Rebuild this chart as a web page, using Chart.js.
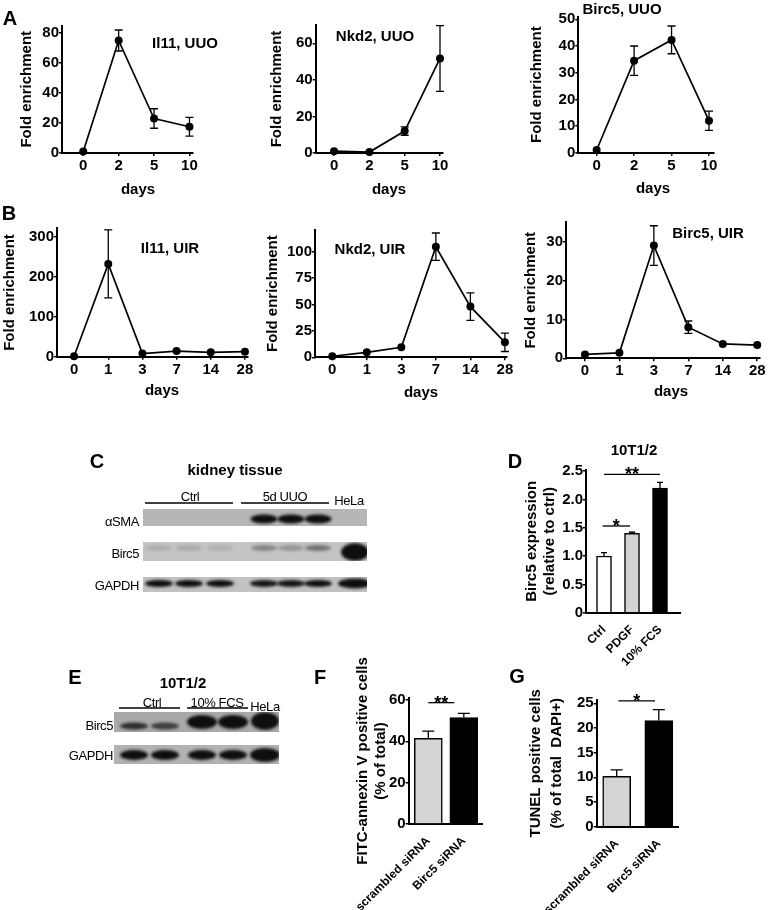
<!DOCTYPE html>
<html>
<head>
<meta charset="utf-8">
<title>Birc5 figure</title>
<script src="https://cdn.jsdelivr.net/npm/chart.js@4.4.1/dist/chart.umd.min.js"></script>
<style>
  html, body { margin: 0; padding: 0; background: #fff; }
  #fig { position: relative; width: 768px; height: 910px; overflow: hidden; }
  #fig canvas { position: absolute; }
  .lbl { position: absolute; transform: translate(-50%, -50%); white-space: nowrap; line-height: 1; color: #000;
         font-family: "Liberation Sans", Arial, sans-serif; font-weight: bold; }
  .letter { font-size: 20px; }
  .ttl { font-size: 15px; }
  .blt { font-family: "Liberation Sans Narrow", "Liberation Sans", Arial, sans-serif; font-weight: normal;
         font-size: 13px; letter-spacing: -0.4px; }
  .r { transform: translate(-100%, -50%); }
</style>
</head>
<body>
<div id="fig"><canvas id="blots" width="768" height="910" style="left:0;top:0"></canvas></div>
<script>
// ---- data ----

// time points (x tick labels)
const daysUUO = ['0', '2', '5', '10'];
const daysUIR = ['0', '1', '3', '7', '14', '28'];

// A: UUO time courses (mean, sem)
const il11UUO = [1, 75, 23, 17.5];
const il11UUOErr = [0, 7, 6.5, 6.3];
const nkd2UUO = [1, 0.5, 12, 51.7];
const nkd2UUOErr = [0, 0, 2.3, 18];
const birc5UUO = [1, 34.5, 42.3, 12];
const birc5UUOErr = [0, 5.5, 5.2, 3.6];

// B: UIR time courses
const il11UIR = [1, 232, 8, 14, 11, 12.5];
const il11UIRErr = [0, 85, 0, 0, 0, 0];
const nkd2UIR = [1, 4.7, 9.5, 104.7, 48, 14.2];
const nkd2UIRErr = [0, 0, 0, 13, 13, 8.7];
const birc5UIR = [1, 1.4, 29, 8, 3.7, 3.4];
const birc5UIRErr = [0, 0, 5.1, 1.6, 0, 0];

// y tick values
const ticksIl11UUO = [0, 20, 40, 60, 80];
const ticksNkd2UUO = [0, 20, 40, 60];
const ticksBirc5UUO = [0, 10, 20, 30, 40, 50];
const ticksIl11UIR = [0, 100, 200, 300];
const ticksNkd2UIR = [0, 25, 50, 75, 100];
const ticksBirc5UIR = [0, 10, 20, 30];

// D: Birc5 expression in 10T1/2
const dGroups = ['Ctrl', 'PDGF', '10% FCS'];
const dValues = [1.0, 1.4, 2.2];
const dErr = [0.06, 0.02, 0.1];
const dTicks = [0, 0.5, 1, 1.5, 2, 2.5];

// F / G: siRNA
const siGroups = ['scrambled siRNA', 'Birc5 siRNA'];
const fValues = [41.5, 51.5];
const fErr = [3.4, 2];
const fTicks = [0, 20, 40, 60];
const gValues = [10.2, 21.5];
const gErr = [1.3, 2.2];
const gTicks = [0, 5, 10, 15, 20, 25];

// blot band intensities (0 = no band, 1 = saturated)
const blotC_aSMA = [0, 0, 0, 1, 1, 1, 0];
const blotC_Birc5 = [0.12, 0.14, 0.1, 0.35, 0.25, 0.45, 1];
const blotC_GAPDH = [1, 1, 1, 0.95, 0.95, 1, 1];
const blotE_Birc5 = [0.8, 0.7, 1, 1, 1];
const blotE_GAPDH = [1, 1, 1, 1, 1];

// ---- chart setup ----
Chart.defaults.font.family = '"Liberation Sans", Arial, sans-serif';
Chart.defaults.font.weight = 'bold';
Chart.defaults.font.size = 15;
Chart.defaults.color = '#000';
Chart.defaults.animation = false;

// error bars drawn from the dataset's own points and y scale
const errPlugin = {
  id: 'errbars',
  afterDatasetsDraw(chart, args, o) {
    if (!o.err) return;
    const ctx = chart.ctx;
    const ys = chart.scales.y;
    const pts = chart.getDatasetMeta(0).data;
    const vals = chart.data.datasets[0].data;
    ctx.save();
    ctx.strokeStyle = '#000';
    ctx.lineWidth = 1.3;
    o.err.forEach((e, i) => {
      if (!e) return;
      const v = vals[i].y;
      const x = pts[i].x;
      const yTop = ys.getPixelForValue(v + e);
      const yBot = o.up ? pts[i].y : ys.getPixelForValue(v - e);
      ctx.beginPath();
      ctx.moveTo(x, yTop); ctx.lineTo(x, yBot);
      ctx.moveTo(x - o.cap, yTop); ctx.lineTo(x + o.cap, yTop);
      if (!o.up) { ctx.moveTo(x - o.cap, yBot); ctx.lineTo(x + o.cap, yBot); }
      ctx.stroke();
    });
    ctx.restore();
  }
};

// significance brackets
const sigPlugin = {
  id: 'sig',
  afterDraw(chart, args, o) {
    if (!o.marks) return;
    const ctx = chart.ctx, xs = chart.scales.x, ys = chart.scales.y;
    ctx.save();
    ctx.strokeStyle = '#000';
    ctx.fillStyle = '#000';
    ctx.lineWidth = 1.3;
    ctx.font = 'bold 18px "Liberation Sans", Arial, sans-serif';
    ctx.textAlign = 'center';
    ctx.textBaseline = 'alphabetic';
    o.marks.forEach(m => {
      const x1 = xs.getPixelForValue(m.from), x2 = xs.getPixelForValue(m.to);
      const yy = ys.getPixelForValue(m.at);
      ctx.beginPath(); ctx.moveTo(x1, yy); ctx.lineTo(x2, yy); ctx.stroke();
      ctx.fillText(m.text, (x1 + x2) / 2, yy + 6);
    });
    ctx.restore();
  }
};
Chart.register(errPlugin, sigPlugin);

const fig = document.getElementById('fig');
const axisBorder = { display: true, color: '#000', width: 2 };
const tickGrid = { display: true, drawOnChartArea: false, drawTicks: true, tickLength: 3, color: '#000', lineWidth: 1.5 };

// place a canvas so the plot area lands on the given page coordinates
function build(geo, cfg) {
  const lh = geo.ylh;
  const scaleLeft = geo.yt - lh / 2;
  const left = Math.floor(scaleLeft) - 1;
  const top = geo.top !== undefined ? geo.top : Math.floor(geo.T) - 14;
  const right = Math.ceil(geo.R) + 16;
  const bottom = Math.ceil(geo.bottom);
  const cv = document.createElement('canvas');
  cv.width = right - left;
  cv.height = bottom - top;
  cv.style.left = left + 'px';
  cv.style.top = top + 'px';
  fig.appendChild(cv);
  cfg.options.responsive = false;
  cfg.options.layout = { autoPadding: false, padding: { left: scaleLeft - left, top: geo.T - top, right: right - geo.R, bottom: 0 } };
  cfg.options.scales.y.afterFit = s => { s.width = geo.L - scaleLeft; };
  cfg.options.scales.x.afterFit = s => { s.height = bottom - geo.B; };
  cfg.options.scales.y.title.font = { size: 15, lineHeight: lh / 15 };
  return new Chart(cv, cfg);
}

function timeCourse(geo, cats, vals, errs, yTicks, yMax, xMin, xMax) {
  return build(geo, {
    type: 'line',
    data: {
      datasets: [{
        data: vals.map((v, i) => ({ x: i, y: v })),
        borderColor: '#000', borderWidth: 1.7, tension: 0,
        pointRadius: 4, pointBackgroundColor: '#000', pointBorderWidth: 0, clip: false
      }]
    },
    options: {
      plugins: { legend: { display: false }, tooltip: { enabled: false }, errbars: { err: errs, cap: 4 } },
      scales: {
        x: {
          type: 'linear', min: xMin, max: xMax, offset: false,
          afterBuildTicks: s => { s.ticks = cats.map((_, i) => ({ value: i })); },
          ticks: { callback: v => cats[v], padding: 1, maxRotation: 0, autoSkip: false },
          grid: tickGrid, border: axisBorder
        },
        y: {
          min: 0, max: yMax,
          afterBuildTicks: s => { s.ticks = yTicks.map(v => ({ value: v })); },
          ticks: { padding: 0 },
          grid: tickGrid, border: axisBorder,
          title: { display: true, text: 'Fold enrichment', padding: 0 }
        }
      }
    }
  });
}

function barPanel(geo, p) {
  return build(geo, {
    type: 'bar',
    data: {
      datasets: [{
        data: p.values.map((v, i) => ({ x: i, y: v })),
        backgroundColor: p.colors, borderColor: '#000', borderWidth: 1.5,
        barThickness: p.barW
      }]
    },
    options: {
      plugins: {
        legend: { display: false }, tooltip: { enabled: false },
        errbars: { err: p.err, cap: p.cap, up: true },
        sig: { marks: p.sig }
      },
      scales: {
        x: {
          type: 'linear', min: p.xMin, max: p.xMax, offset: false,
          afterBuildTicks: s => { s.ticks = p.cats.map((_, i) => ({ value: i })); },
          ticks: { callback: v => p.cats[v], font: { size: 12 }, minRotation: 45, maxRotation: 45, autoSkip: false, padding: 2 },
          grid: { display: false, offset: false }, border: axisBorder
        },
        y: {
          min: 0, max: p.yMax,
          afterBuildTicks: s => { s.ticks = p.yTicks.map(v => ({ value: v })); },
          ticks: { padding: 0, callback: p.fmt || (v => v) },
          grid: tickGrid, border: axisBorder,
          title: { display: true, text: p.title, padding: 0 }
        }
      }
    }
  });
}

// ---- panel A ----
timeCourse({ L: 62, R: 193, B: 153, T: 153 - 85 * 1.5, yt: 27, ylh: 18, bottom: 180 },
  daysUUO, il11UUO, il11UUOErr, ticksIl11UUO, 85, -0.6, 3.1);
timeCourse({ L: 315.7, R: 443, B: 153, T: 153 - 70 * 1.828, yt: 277.3, ylh: 18, bottom: 180 },
  daysUUO, nkd2UUO, nkd2UUOErr, ticksNkd2UUO, 70, -0.52, 3.085);
timeCourse({ L: 578.3, R: 713.3, B: 152.7, T: 152.7 - 51 * 2.667, yt: 537, ylh: 18, bottom: 180 },
  daysUUO, birc5UUO, birc5UUOErr, ticksBirc5UUO, 51, -0.49, 3.115);

// ---- panel B ----
timeCourse({ L: 57, R: 248, B: 356.7, T: 356.7 - 321 * 0.4, yt: 9.5, ylh: 18, bottom: 382 },
  daysUIR, il11UIR, il11UIRErr, ticksIl11UIR, 321, -0.5, 5.09);
timeCourse({ L: 315, R: 507, B: 357.3, T: 357.3 - 120.5 * 1.056, yt: 272.5, ylh: 18, bottom: 382 },
  daysUIR, nkd2UIR, nkd2UIRErr, ticksNkd2UIR, 120.5, -0.5, 5.06);
timeCourse({ L: 566, R: 760, B: 358.3, T: 358.3 - 35 * 3.887, yt: 530.8, ylh: 18, bottom: 382 },
  daysUIR, birc5UIR, birc5UIRErr, ticksBirc5UIR, 35, -0.55, 5.08);

// ---- panel D ----
barPanel({ L: 586, R: 680, B: 612.7, T: 612.7 - 2.52 * 56.67, yt: 532, ylh: 18, bottom: 690, top: 456 }, {
  cats: dGroups, values: dValues, err: dErr, colors: ['#fff', '#d4d4d4', '#000'],
  yTicks: dTicks, yMax: 2.52, xMin: -0.643, xMax: 2.714, barW: 15, cap: 3,
  title: ['Birc5 expression', '(relative to ctrl)'],
  fmt: v => (v === 0 ? '0' : v.toFixed(1)),
  sig: [{ from: -0.05, to: 0.93, at: 1.53, text: '*' }, { from: 0, to: 2, at: 2.44, text: '**' }]
});

// ---- panel F ----
barPanel({ L: 397.3, R: 482.3, B: 824, T: 824 - 61 * 2.067, yt: 351.7, ylh: 18.3, bottom: 910, top: 640 }, {
  cats: siGroups, values: fValues, err: fErr, colors: ['#d4d4d4', '#000'],
  yTicks: fTicks, yMax: 61, xMin: -0.554, xMax: 1.52, barW: 28, cap: 6,
  title: ['FITC-annexin V positive cells', '(% of total)'],
  sig: [{ from: 0, to: 0.73, at: 58.7, text: '**' }]
});

// ---- panel G ----
barPanel({ L: 596.7, R: 678.3, B: 826.7, T: 826.7 - 25.7 * 4.936, yt: 536, ylh: 21, bottom: 910, top: 670 }, {
  cats: siGroups, values: gValues, err: gErr, colors: ['#d4d4d4', '#000'],
  yTicks: gTicks, yMax: 25.7, xMin: -0.475, xMax: 1.463, barW: 28, cap: 6,
  title: ['TUNEL positive cells', '(% of total  DAPI+)'],
  sig: [{ from: 0.04, to: 0.91, at: 25.5, text: '*' }]
});

// ---- western blots (C, E) ----
const bctx = document.getElementById('blots').getContext('2d');

function blotRow(strip, lanesX, intens, band, special) {
  bctx.fillStyle = strip.color;
  bctx.fillRect(strip.x, strip.y, strip.w, strip.h);
  bctx.save();
  bctx.beginPath();
  bctx.rect(strip.x, strip.y, strip.w, strip.h);
  bctx.clip();
  bctx.filter = 'blur(1.4px)';
  intens.forEach((a, i) => {
    if (!a) return;
    const b = Object.assign({}, band, (special && special[i]) || {});
    bctx.fillStyle = 'rgba(14,14,14,' + a + ')';
    bctx.beginPath();
    bctx.ellipse(lanesX[i], b.cy, b.rx, b.ry, 0, 0, Math.PI * 2);
    bctx.fill();
  });
  bctx.restore();
}

function underline(x1, x2, y) {
  bctx.save();
  bctx.strokeStyle = '#000';
  bctx.lineWidth = 1.5;
  bctx.beginPath(); bctx.moveTo(x1, y); bctx.lineTo(x2, y); bctx.stroke();
  bctx.restore();
}

const lanesC = [159, 189, 220, 264, 291, 318, 355];
blotRow({ x: 143, y: 509, w: 224, h: 17, color: '#b6b6b6' }, lanesC, blotC_aSMA, { cy: 519, rx: 13.5, ry: 4.5 });
blotRow({ x: 143, y: 542, w: 224, h: 19, color: '#c4c4c4' }, lanesC, blotC_Birc5, { cy: 548, rx: 13, ry: 3 },
  { 6: { cy: 552, rx: 14, ry: 9 } });
blotRow({ x: 143, y: 577, w: 224, h: 15, color: '#c2c2c2' }, lanesC, blotC_GAPDH, { cy: 583.5, rx: 14, ry: 3.5 },
  { 6: { rx: 17, ry: 5 } });
underline(145, 233, 503);
underline(241, 329, 503);

const lanesE = [134, 165, 202, 233, 265];
blotRow({ x: 114, y: 712, w: 165, h: 20, color: '#a9a9a9' }, lanesE, blotE_Birc5, { cy: 722, rx: 15, ry: 7 },
  { 0: { cy: 726, ry: 3.5, rx: 14 }, 1: { cy: 726, ry: 3.5, rx: 14 }, 4: { cy: 721, ry: 9, rx: 14 } });
blotRow({ x: 114, y: 745, w: 165, h: 19, color: '#b2b2b2' }, lanesE, blotE_GAPDH, { cy: 755, rx: 14, ry: 5 },
  { 4: { rx: 15, ry: 7 } });
underline(119, 180, 708);
underline(187, 248, 708);

// ---- text ----
const labels = [
  ['A', 10, 18, 'letter'], ['B', 9, 213, 'letter'], ['C', 97, 461, 'letter'], ['D', 515, 461, 'letter'],
  ['E', 75, 677, 'letter'], ['F', 320, 677, 'letter'], ['G', 517, 676, 'letter'],
  ['Il11, UUO', 185, 42, 'ttl'], ['Nkd2, UUO', 375, 35, 'ttl'], ['Birc5, UUO', 622, 8, 'ttl'],
  ['Il11, UIR', 170, 247, 'ttl'], ['Nkd2, UIR', 370, 248, 'ttl'], ['Birc5, UIR', 708, 232, 'ttl'],
  ['days', 138, 188, 'ttl'], ['days', 389, 188, 'ttl'], ['days', 653, 187, 'ttl'],
  ['days', 162, 389, 'ttl'], ['days', 421, 391, 'ttl'], ['days', 671, 390, 'ttl'],
  ['kidney tissue', 235, 469, 'ttl'], ['10T1/2', 634, 449, 'ttl'], ['10T1/2', 183, 682, 'ttl'],
  ['Ctrl', 190, 496, 'blt'], ['5d UUO', 285, 496, 'blt'], ['HeLa', 349, 500, 'blt'],
  ['αSMA', 139, 521, 'blt r'], ['Birc5', 139, 553, 'blt r'], ['GAPDH', 139, 585, 'blt r'],
  ['Ctrl', 152, 702, 'blt'], ['10%  FCS', 217, 702, 'blt'], ['HeLa', 265, 706, 'blt'],
  ['Birc5', 113, 725, 'blt r'], ['GAPDH', 113, 755, 'blt r']
];
labels.forEach(([text, x, y, cls]) => {
  const d = document.createElement('div');
  d.className = 'lbl ' + cls;
  d.textContent = text;
  d.style.left = x + 'px';
  d.style.top = y + 'px';
  fig.appendChild(d);
});
</script>
</body>
</html>
